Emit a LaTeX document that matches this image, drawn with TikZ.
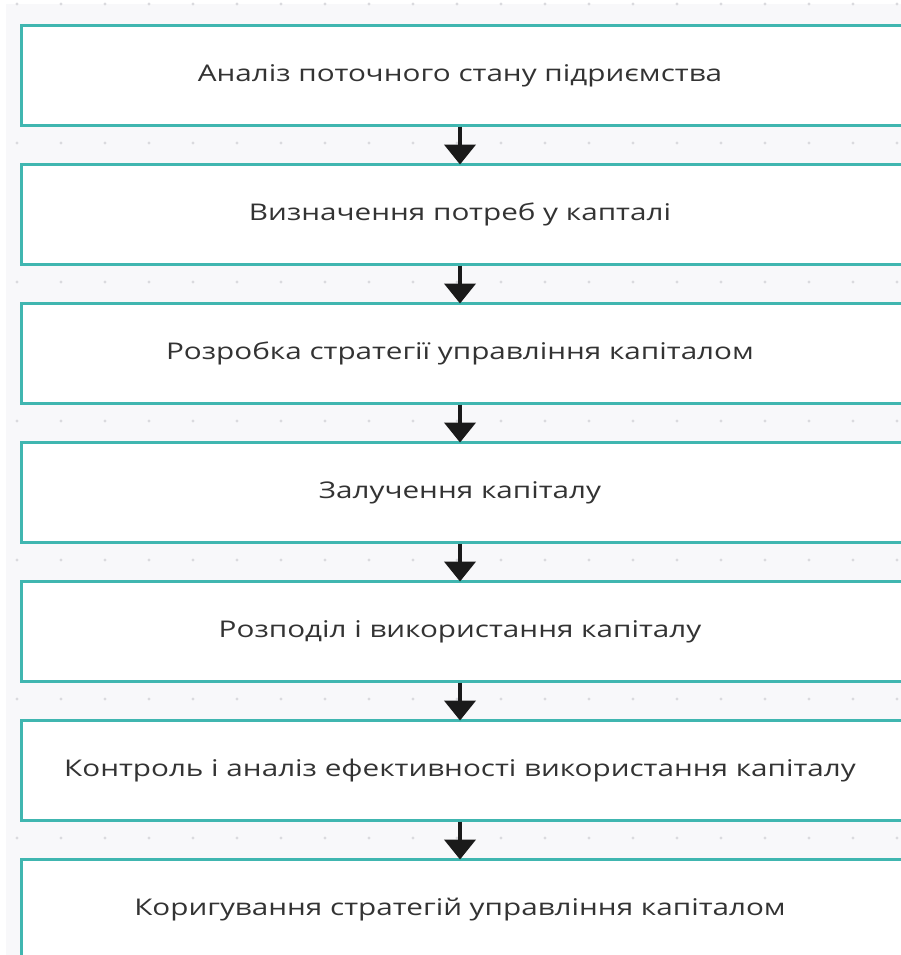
\documentclass[tikz,border=0pt]{standalone}
\usepackage{fontspec}
\setmainfont[FakeStretch=1.29]{Open Sans}
\usetikzlibrary{arrows.meta}
\definecolor{canvas}{RGB}{248,248,250}
\definecolor{griddot}{RGB}{218,218,222}
\definecolor{boxline}{RGB}{64,182,176}
\definecolor{labeltext}{RGB}{51,51,51}
\definecolor{arrowink}{RGB}{26,26,26}
\tikzset{
  stagebox/.style={draw=boxline, line width=3bp, fill=white, rectangle,
    minimum width=890bp, minimum height=100bp, inner sep=0pt, anchor=north west},
  stagetext/.style={text=labeltext, font=\fontsize{23bp}{27bp}\selectfont, inner sep=0pt},
  flowarrow/.style={draw=arrowink, line width=4.5bp,
    -{Triangle[width=31bp,length=20bp]}, shorten >=-2bp},
}
\begin{document}
\begin{tikzpicture}[x=1bp,y=-1bp]
  \useasboundingbox (0,0) rectangle (901,955);
  \fill[white] (0,0) rectangle (901,955);
  \fill[canvas] (6,4) rectangle (901,955);
  % dotted grid in the background
  \foreach \row in {4,143,282,421,560,699,838}{
    \foreach \col in {17,61,...,901}{
      \fill[griddot] (\col,\row) circle (1.6bp);
    }
  }
  % process stages
  \foreach \i/\txt [count=\k from 0] in {
      1/{Аналіз поточного стану підриємства},
      2/{Визначення потреб у капталі},
      3/{Розробка стратегії управління капіталом},
      4/{Залучення капіталу},
      5/{Розподіл і використання капіталу},
      6/{Контроль і аналіз ефективності використання капіталу},
      7/{Коригування стратегій управління капіталом}}{
    \node[stagebox] (b\i) at (19.5,{23.5+139*\k}) {};
    \node[stagetext] (t\i) at (460,{75.5+139*\k}) {\txt};
  }
  % connectors between consecutive stages
  \foreach \a/\b in {1/2,2/3,3/4,4/5,5/6,6/7}{
    \draw[flowarrow] (t\a |- b\a.south) -- (t\b |- b\b.north);
  }
\end{tikzpicture}
\end{document}
